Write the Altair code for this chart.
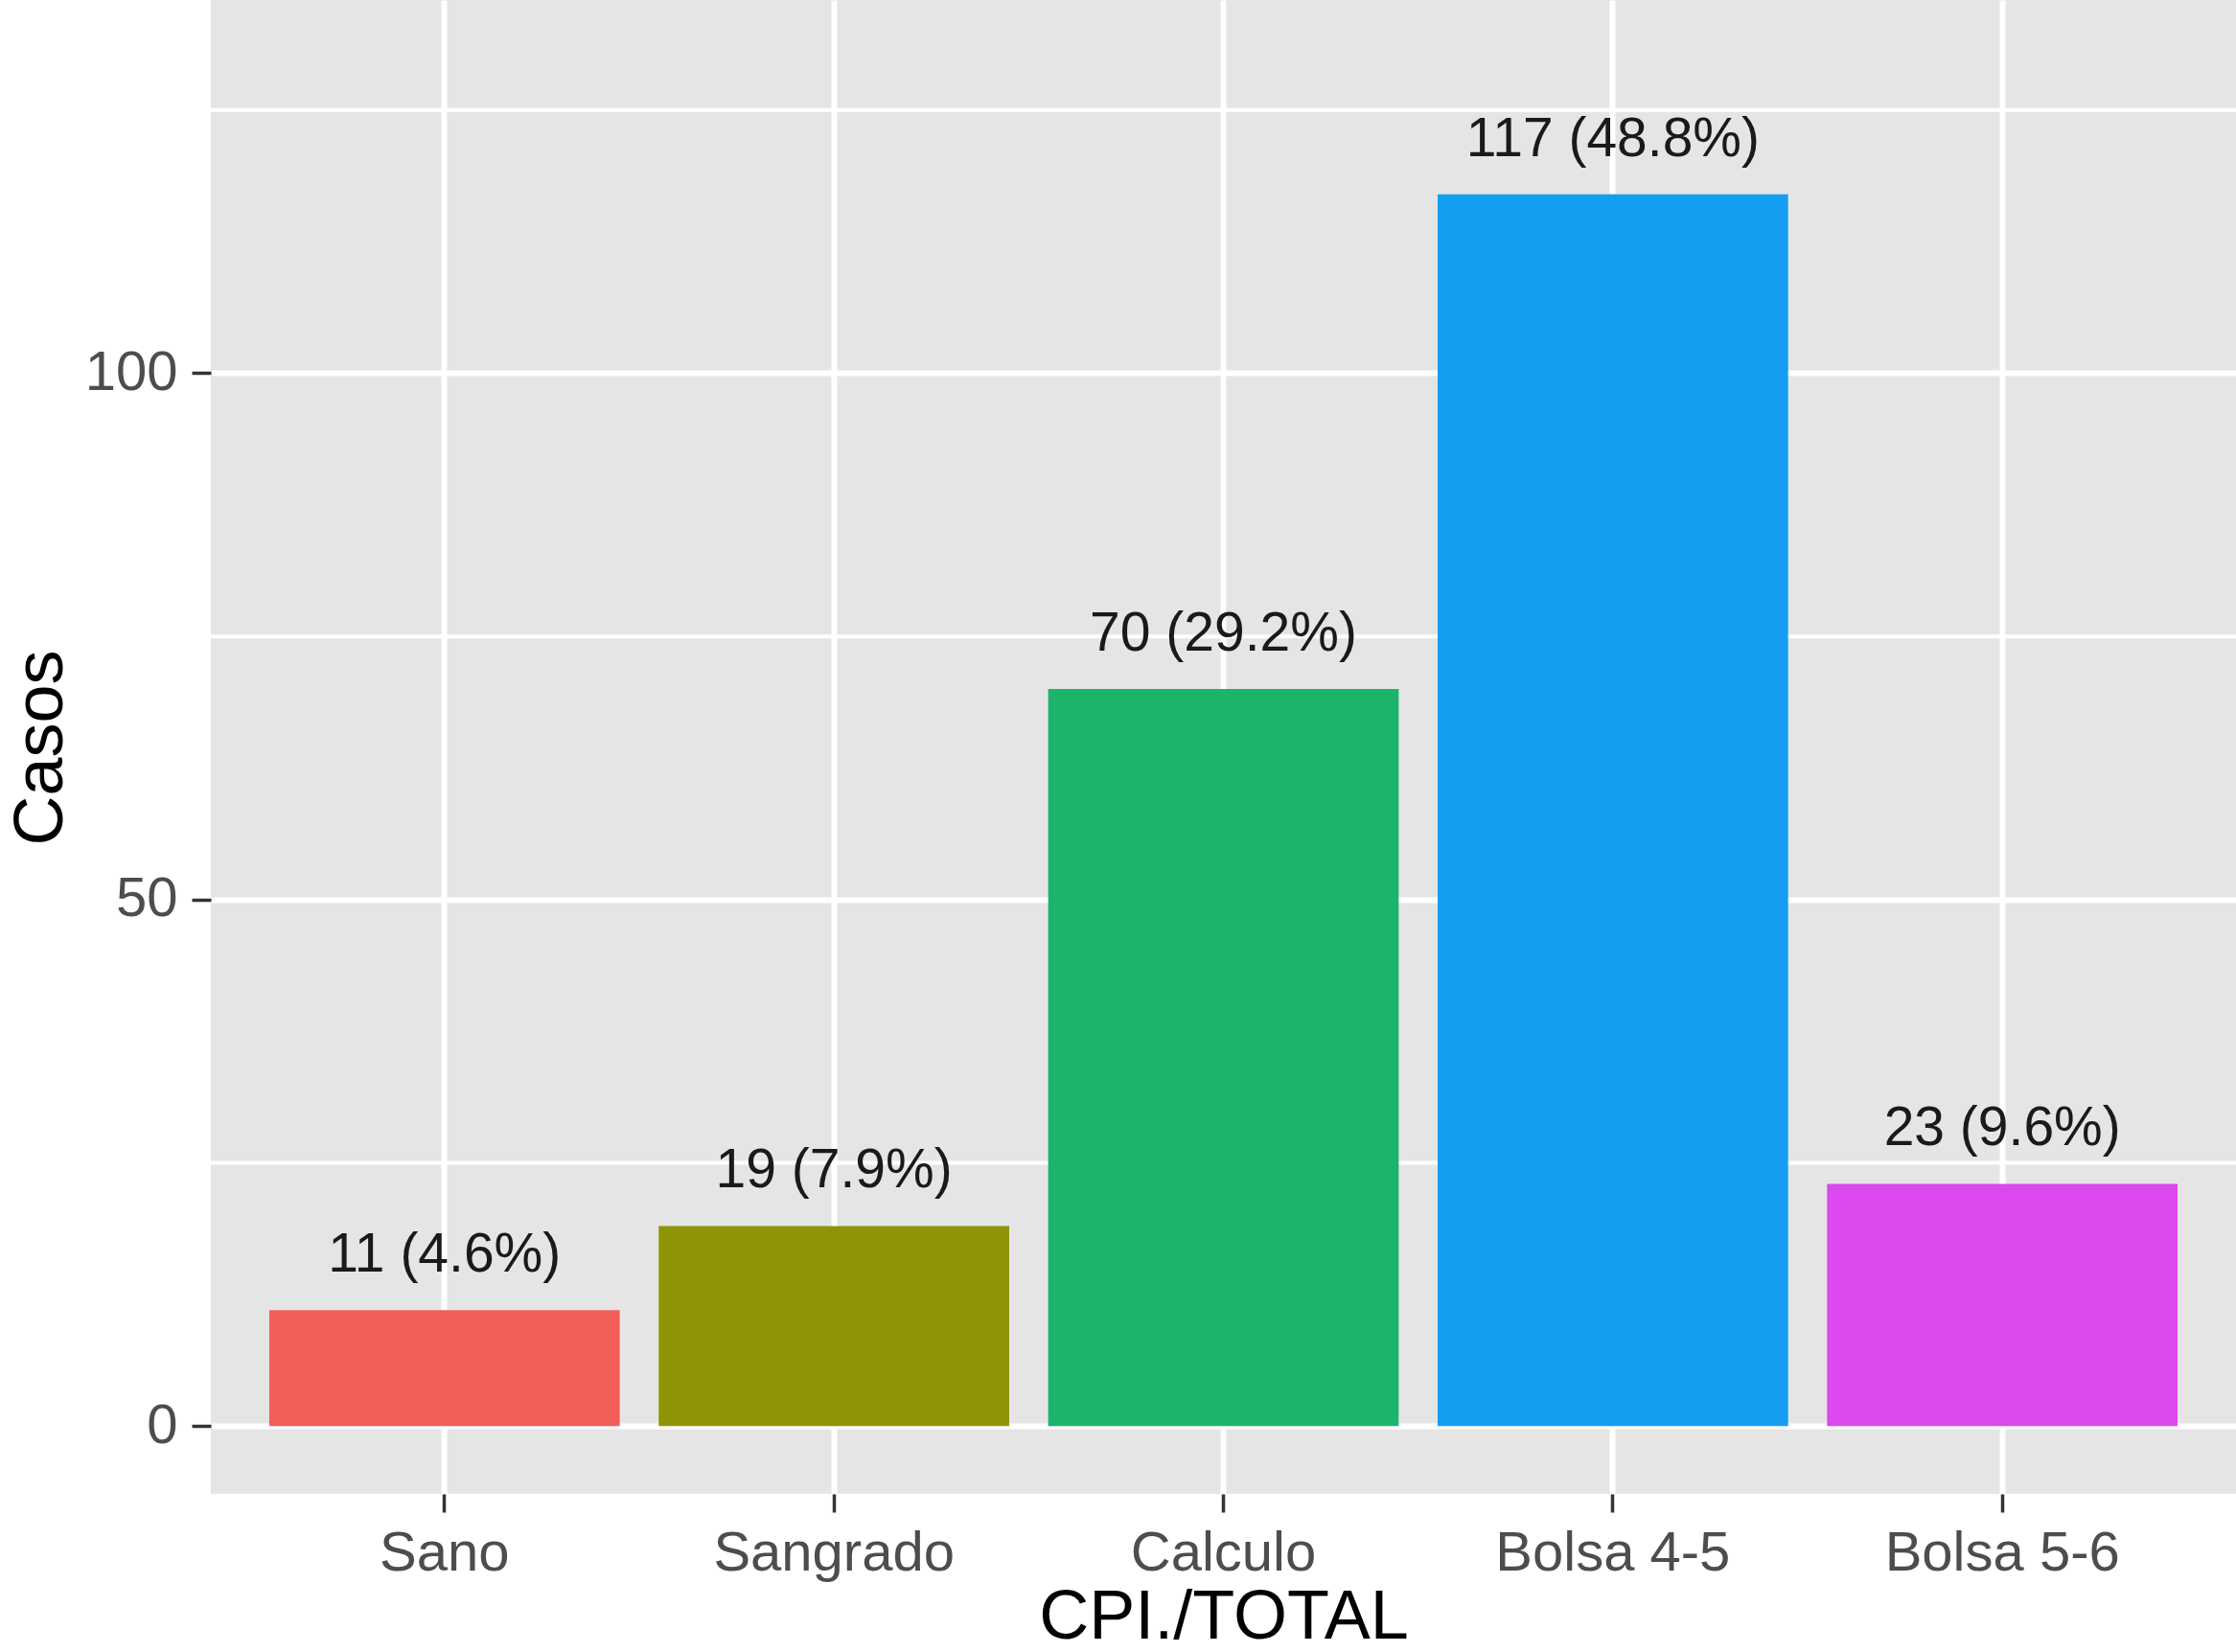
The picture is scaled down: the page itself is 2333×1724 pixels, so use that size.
import altair as alt
import pandas as pd

# Cases per category
categorias = ["Sano", "Sangrado", "Calculo", "Bolsa 4-5", "Bolsa 5-6"]
casos = [11, 19, 70, 117, 23]
porcentajes = [4.6, 7.9, 29.2, 48.8, 9.6]
colores = ["#F25D5A", "#8F9405", "#1BB46A", "#149EF0", "#DB48EE"]

ticks_mayores = [0, 50, 100]
ticks_menores = [25, 75, 125]

df = pd.DataFrame({
    "categoria": categorias,
    "casos": casos,
    "etiqueta": [f"{n} ({p:.1f}%)" for n, p in zip(casos, porcentajes)],
})
df_menor = pd.DataFrame({"y": ticks_menores})

FONT = "Liberation Sans"
Y_DOMAIN = [-6.45, 135.45]

x_enc = alt.X(
    "categoria:N",
    sort=categorias,
    scale=alt.Scale(paddingInner=0.1, paddingOuter=0.15),
    axis=alt.Axis(
        title="CPI./TOTAL",
        labelAngle=0,
        labelLimit=0,
        grid=True,
        gridColor="white",
        gridWidth=6,
        domain=False,
        tickSize=19,
        tickWidth=3.5,
        tickColor="#333333",
        labelFont=FONT,
        labelFontSize=58,
        labelColor="#4D4D4D",
        labelBaseline="alphabetic",
        labelPadding=60,
        titleFont=FONT,
        titleFontSize=72,
        titleFontWeight="normal",
        titleColor="#000000",
        titleBaseline="alphabetic",
        titleY=150,
    ),
)

y_scale = alt.Scale(domain=Y_DOMAIN, nice=False, zero=False)

# Minor horizontal gridlines
menores = alt.Chart(df_menor).mark_rule(color="white", strokeWidth=4).encode(
    y=alt.Y("y:Q", scale=y_scale)
)

barras = alt.Chart(df).mark_bar().encode(
    x=x_enc,
    y=alt.Y(
        "casos:Q",
        scale=y_scale,
        axis=alt.Axis(
            title="Casos",
            values=ticks_mayores,
            grid=True,
            gridColor="white",
            gridWidth=6,
            domain=False,
            tickSize=20,
            tickWidth=3.5,
            tickColor="#333333",
            labelFont=FONT,
            labelFontSize=58,
            labelColor="#4D4D4D",
            labelPadding=15,
            titleFont=FONT,
            titleFontSize=72,
            titleFontWeight="normal",
            titleColor="#000000",
            titleAngle=-90,
            titleBaseline="alphabetic",
            titleAlign="center",
            titleX=-156,
            titleY=780,
        ),
    ),
    y2=alt.datum(0),
    color=alt.Color(
        "categoria:N",
        sort=categorias,
        scale=alt.Scale(domain=categorias, range=colores),
        legend=None,
    ),
)

etiquetas = alt.Chart(df).mark_text(
    font=FONT, fontSize=57, color="#1A1A1A", baseline="alphabetic", dy=-40
).encode(
    x=alt.X("categoria:N", sort=categorias),
    y=alt.Y("casos:Q", scale=y_scale),
    text="etiqueta:N",
)

chart = (
    alt.layer(menores, barras, etiquetas)
    .properties(
        width=2113,
        height=1559,
        autosize=alt.AutoSizeParams(type="none"),
        padding={"left": 220, "top": 0, "right": 0, "bottom": 165},
        background="white",
    )
    .configure_view(fill="#E5E5E5", stroke=None)
)

chart.save("out.html", embed_options={"renderer": "svg", "actions": False})
